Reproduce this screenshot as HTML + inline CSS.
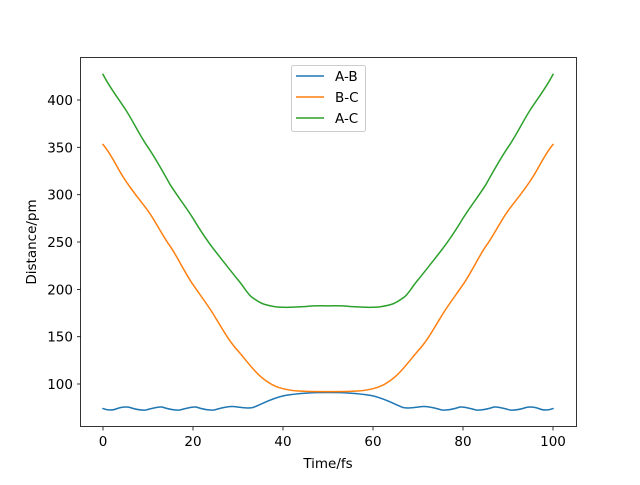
<!DOCTYPE html>
<html><head><style>body{margin:0;background:#fff}svg text{font-family:"DejaVu Sans",sans-serif;font-size:13.5px;fill:#000}</style></head><body>
<svg width="640" height="480" xmlns="http://www.w3.org/2000/svg">
<rect width="640" height="480" fill="#fff"/>
<g fill="none" stroke-width="1.5" stroke-linejoin="round" stroke-linecap="square">
<path stroke="#1f77b4" d="M103,408.6 C108,410.5 112,410.5 116,409 C121,407 126,406.5 130,407.5 C136,409.5 141,410.5 146,410 C152,408.5 157,406.5 162,407 C168,409 174,410.5 180,410 C186,408.5 191,406.5 196,407 C202,409 208,410.5 214,410 C220,408.5 226,406.3 233,406.5 C240,407 246,409 253,407.5 C262,404 272,398 285,395.5 C300,393 315,392.5 328,392.5 C341,392.5 356,393 371,395.5 C384,398 394,404 403,407.5 C410,409 416,407 423,406.5 C430,406.3 436,408.5 442,410 C448,410.5 454,409 460,407 C465,406.5 470,408.5 476,410 C482,410.5 488,409 494,407 C499,406.5 504,408.5 510,410 C515,410.5 520,409.5 526,407.5 C530,406.5 535,407 540,409 C544,410.5 548,410.5 553,408.6"/>
<path stroke="#ff7f0e" d="M103,144.5 C112,155 118,170 125.5,180.5 C133,192 140,200 148,210.8 C156,222 162,235 170.5,246.7 C178,258 185,273 193,284.6 C200,295 208,305 215.5,317.7 C223,330 229,341 238,350.9 C246,360 253,370 260.5,376.4 C268,383 275,387 283,388.7 C292,391 300,391.6 328,391.6 C356,391.6 364,391 373,388.7 C381,387 388,383 395.5,376.4 C403,370 410,360 418,350.9 C427,341 433,330 440.5,317.7 C448,305 456,295 463,284.6 C471,273 478,258 485.5,246.7 C494,235 500,222 508,210.8 C516,200 523,192 530.5,180.5 C538,170 544,155 553,144.5"/>
<path stroke="#2ca02c" d="M103,74.4 C110,88 118,98 125.5,109.5 C133,121 140,136 148,147.3 C156,159 163,172 170.5,185.2 C178,197 186,207 193,218.3 C200,230 208,242 215.5,251.5 C223,261 230,270 238,279.9 C244,287 247,293 251.5,296.9 C257,301 261,303.5 265,304.5 C272,306.5 277,307.3 283,307.3 C292,307.5 298,307 305.5,306.5 C315,305.5 320,305.6 328,305.9 C336,305.6 341,305.5 350.5,306.5 C358,307 364,307.5 373,307.3 C379,307.3 384,306.5 391,304.5 C395,303.5 399,301 404.5,296.9 C409,293 412,287 418,279.9 C426,270 433,261 440.5,251.5 C448,242 456,230 463,218.3 C470,207 478,197 485.5,185.2 C493,172 500,159 508,147.3 C516,136 523,121 530.5,109.5 C538,98 546,88 553,74.4"/>
</g>
<rect x="80.5" y="57.5" width="496" height="369" fill="none" stroke="#000" stroke-width="0.8"/>
<g stroke="#000" stroke-width="0.8">
<line x1="103" y1="427" x2="103" y2="430.5"/><line x1="193" y1="427" x2="193" y2="430.5"/><line x1="283" y1="427" x2="283" y2="430.5"/><line x1="373" y1="427" x2="373" y2="430.5"/><line x1="463" y1="427" x2="463" y2="430.5"/><line x1="553" y1="427" x2="553" y2="430.5"/>
<line x1="77" y1="384" x2="80.5" y2="384"/><line x1="77" y1="336.7" x2="80.5" y2="336.7"/><line x1="77" y1="289.4" x2="80.5" y2="289.4"/><line x1="77" y1="242" x2="80.5" y2="242"/><line x1="77" y1="194.7" x2="80.5" y2="194.7"/><line x1="77" y1="147.3" x2="80.5" y2="147.3"/><line x1="77" y1="100" x2="80.5" y2="100"/>
</g>
<g text-anchor="middle">
<text x="103" y="446">0</text><text x="193" y="446">20</text><text x="283" y="446">40</text><text x="373" y="446">60</text><text x="463" y="446">80</text><text x="553" y="446">100</text>
<text x="328" y="468">Time/fs</text>
</g>
<g text-anchor="end">
<text x="73" y="389">100</text><text x="73" y="341.7">150</text><text x="73" y="294.4">200</text><text x="73" y="247">250</text><text x="73" y="199.7">300</text><text x="73" y="152.3">350</text><text x="73" y="105">400</text>
</g>
<text transform="translate(36,242) rotate(-90)" text-anchor="middle">Distance/pm</text>
<rect x="291.5" y="65.5" width="74" height="66" rx="2" fill="#fff" fill-opacity="0.8" stroke="#ccc"/>
<line x1="296" y1="76" x2="324" y2="76" stroke="#1f77b4" stroke-width="1.5"/>
<line x1="296" y1="97" x2="324" y2="97" stroke="#ff7f0e" stroke-width="1.5"/>
<line x1="296" y1="118" x2="324" y2="118" stroke="#2ca02c" stroke-width="1.5"/>
<text x="335" y="81">A-B</text><text x="335" y="102">B-C</text><text x="335" y="123">A-C</text>
</svg>
</body></html>
